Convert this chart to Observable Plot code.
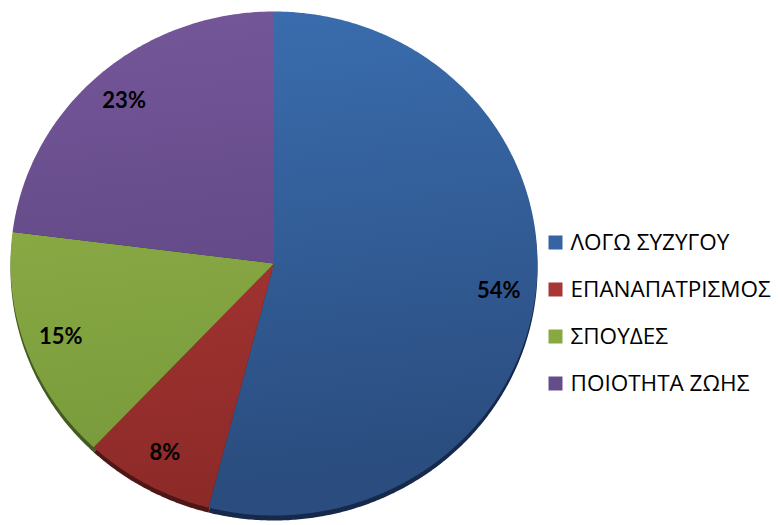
<!DOCTYPE html>
<html><head><meta charset="utf-8">
<script src="https://cdn.jsdelivr.net/npm/d3@7"></script>
<script src="https://cdn.jsdelivr.net/npm/@observablehq/plot@0.6"></script>
<style>
body{margin:0;background:#fff}
#wrap{display:flex;flex-direction:row;width:779px;height:525px}
#wrap svg{display:block}
</style>
</head><body><div id="wrap"></div>
<script>
const categories = ["ΛΟΓΩ ΣΥΖΥΓΟΥ", "ΕΠΑΝΑΠΑΤΡΙΣΜΟΣ", "ΣΠΟΥΔΕΣ", "ΠΟΙΟΤΗΤΑ ΖΩΗΣ"];
const values = [54, 8, 15, 23];
const labels = ["54%", "8%", "15%", "23%"];
const topColors = ["#3b6fb1", "#b83d3a", "#95b54a", "#75579a"];
const bottomColors = ["#2a4c7e", "#8c2a28", "#76983a", "#56407a"];
const shadowColors = ["#16294a", "#4e1716", "#435a20", "#2e2242"];
const legendColors = ["#3563a3", "#a73634", "#88a842", "#674c8c"];

const arcs = d3.pie().sort(null).value(d => d)(values);
const slices = arcs.map((a, i) => {
  const pts = [{x: 0, y: 0}];
  const n = Math.max(2, Math.ceil((a.endAngle - a.startAngle) / (Math.PI / 360)));
  for (let k = 0; k <= n; k++) {
    const t = a.startAngle + (a.endAngle - a.startAngle) * k / n;
    pts.push({x: Math.sin(t), y: Math.cos(t)});
  }
  pts.push({x: 0, y: 0});
  return pts;
});
const labelData = arcs.map((a, i) => {
  const m = (a.startAngle + a.endAngle) / 2;
  return {x: 0.86 * Math.sin(m), y: 0.86 * Math.cos(m), text: labels[i]};
});

const pie = Plot.plot({
  width: 545, height: 525,
  margin: 0,
  x: {domain: [-1, 1], range: [10, 537], axis: null},
  y: {domain: [-1, 1], range: [515, 11], axis: null},
  marks: [
    ...slices.map((s, i) => Plot.line(s, {x: "x", y: "y", fill: shadowColors[i], stroke: "none", dy: 5})),
    ...slices.map((s, i) => Plot.line(s, {x: "x", y: "y", fill: `url(#grad${i})`, stroke: "none"})),
    Plot.text(labelData, {x: "x", y: "y", text: "text", fontSize: 22, fontWeight: "bold", fontFamily: "Lato, 'Open Sans', sans-serif", fill: "#000"})
  ]
});
const defs = d3.select(pie).insert("defs", ":first-child");
topColors.forEach((c, i) => {
  const g = defs.append("linearGradient").attr("id", `grad${i}`)
    .attr("gradientUnits", "userSpaceOnUse")
    .attr("x1", 0).attr("y1", 10).attr("x2", 60).attr("y2", 515);
  g.append("stop").attr("offset", "0%").attr("stop-color", c);
  g.append("stop").attr("offset", "100%").attr("stop-color", bottomColors[i]);
});

const legend = Plot.plot({
  width: 234, height: 525,
  margin: 0,
  x: {domain: [0, 1], range: [10, 25], axis: null},
  y: {type: "point", domain: categories, range: [241, 383], padding: 0, axis: null},
  color: {domain: categories, range: legendColors},
  marks: [
    Plot.dot(categories, {x: () => 0, y: d => d, fill: d => d, symbol: "square", r: 7.9, stroke: "none"}),
    Plot.text(categories, {x: () => 1, y: d => d, text: d => d, textAnchor: "start", fontSize: 22.5, fontFamily: "'Open Sans', sans-serif", fill: "#000"})
  ]
});
document.getElementById("wrap").append(pie, legend);
</script>
</body></html>
